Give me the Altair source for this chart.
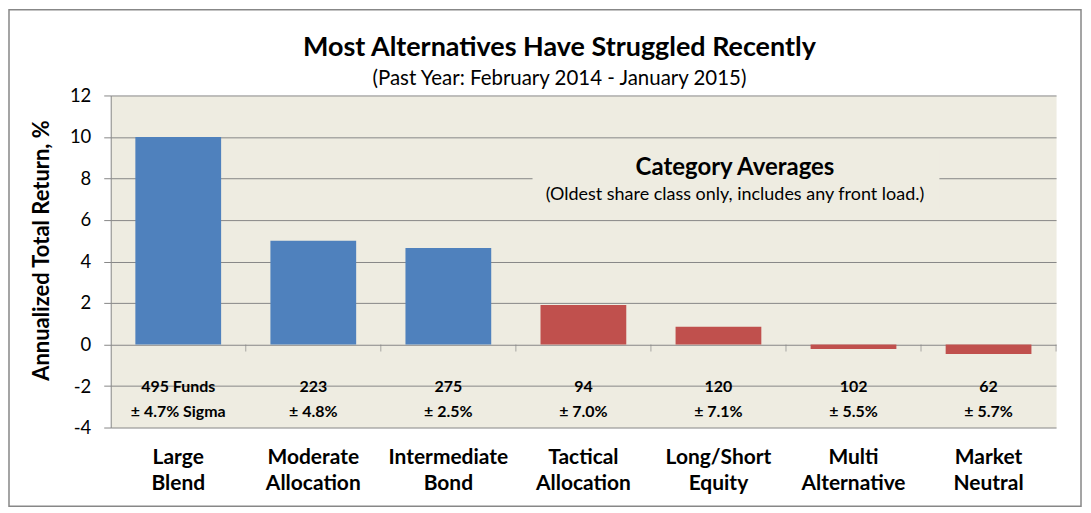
import altair as alt
import pandas as pd

categories = ["Large Blend", "Moderate Allocation", "Intermediate Bond",
              "Tactical Allocation", "Long/Short Equity", "Multi Alternative",
              "Market Neutral"]
returns = [10.0, 5.0, 4.65, 1.9, 0.85, -0.22, -0.46]
groups = ["Traditional", "Traditional", "Traditional",
          "Alternative", "Alternative", "Alternative", "Alternative"]
fund_counts = [495, 223, 275, 94, 120, 102, 62]
sigmas = [4.7, 4.8, 2.5, 7.0, 7.1, 5.5, 5.7]
y_ticks = [-4, -2, 0, 2, 4, 6, 8, 10, 12]

FONT = "Lato"
GRID = "#878787"
BG = "#EEECE1"

notes = []
for i, (c, s) in enumerate(zip(fund_counts, sigmas)):
    if i == 0:
        notes.append([f"{c} Funds", f"± {s:.1f}% Sigma"])
    else:
        notes.append([str(c), f"± {s:.1f}%"])

df = pd.DataFrame({
    "category": categories,
    "value": returns,
    "group": groups,
    "note": notes,
    "idx": list(range(1, len(categories) + 1)),
})

x_scale = alt.Scale(paddingInner=0.365, paddingOuter=0.1825)
x_enc = alt.X(
    "category:N", sort=categories, scale=x_scale,
    axis=alt.Axis(title=None, labelExpr="split(datum.label, ' ')",
                  domain=False, ticks=False, labelAngle=0,
                  labelFont=FONT, labelFontSize=21, labelFontWeight="bold",
                  labelColor="black", labelPadding=19, labelLineHeight=26),
)
y_enc = alt.Y(
    "value:Q", scale=alt.Scale(domain=[-4, 12], nice=False, zero=False),
    axis=alt.Axis(values=y_ticks, title="Annualized Total Return, %",
                  labelExpr="datum.value + ''",
                  grid=True, gridColor=GRID, gridOpacity=1,
                  domainColor=GRID, tickColor=GRID, tickSize=7,
                  labelFont=FONT, labelFontSize=18.5, labelColor="black",
                  labelPadding=13, titleFont=FONT, titleFontSize=22,
                  titleFontWeight="bold", titleColor="black",
                  titleX=-69, titleY=155, titleAlign="center",
                  titleBaseline="middle"),
)

bars = alt.Chart(df).mark_bar().encode(
    x=x_enc, y=y_enc,
    color=alt.Color("group:N",
                    scale=alt.Scale(domain=["Traditional", "Alternative"],
                                    range=["#4F81BD", "#C0504D"]),
                    legend=None),
)

notes_layer = alt.Chart(df).mark_text(
    font=FONT, fontSize=16, fontWeight="bold", color="black",
    baseline="middle", lineHeight=25,
).encode(x=x_enc, y=alt.datum(-2.05), text="note")

ticks = alt.Chart(df).mark_tick(
    orient="vertical", size=7, thickness=1, color=GRID, yOffset=3.5,
).encode(
    x=alt.X("idx:Q", scale=alt.Scale(domain=[0, len(categories)], nice=False),
            axis=None),
    y=alt.datum(0),
)

one = pd.DataFrame({"a": [0]})
box = alt.Chart(one).mark_rect(fill=BG).encode(
    x=alt.value(423), x2=alt.value(831), y=alt.value(55), y2=alt.value(112))
box_title = alt.Chart(one).mark_text(
    text="Category Averages", font=FONT, fontSize=24, fontWeight="bold",
    color="black", baseline="alphabetic", align="center",
).encode(x=alt.value(626), y=alt.value(80))
box_sub = alt.Chart(one).mark_text(
    text="(Oldest share class only, includes any front load.)", font=FONT,
    fontSize=18, color="black", baseline="alphabetic", align="center",
).encode(x=alt.value(626), y=alt.value(105))

title = alt.Chart(one).mark_text(
    text="Most Alternatives Have Struggled Recently", font=FONT, fontSize=27,
    fontWeight="bold", color="black", baseline="alphabetic", align="center",
).encode(x=alt.value(450), y=alt.value(-40))
subtitle = alt.Chart(one).mark_text(
    text="(Past Year: February 2014 - January 2015)", font=FONT, fontSize=20.5,
    color="black", baseline="alphabetic", align="center",
).encode(x=alt.value(450), y=alt.value(-10))

border = alt.Chart(one).mark_rect(
    fillOpacity=0, stroke=GRID, strokeWidth=1.5,
).encode(x=alt.value(-102), x2=alt.value(973), y=alt.value(-86),
         y2=alt.value(412))

main = alt.layer(bars, notes_layer)

chart = alt.layer(
    border, title, subtitle, main, box, box_title, box_sub, ticks
).resolve_scale(x="independent").properties(
    width=948, height=333,
    autosize=alt.AutoSizeParams(type="none"),
    padding={"left": 103, "top": 87, "right": 27, "bottom": 82},
).configure_view(fill=BG, stroke="transparent")

chart.save("out.html", embed_options={"renderer": "svg", "actions": False})
